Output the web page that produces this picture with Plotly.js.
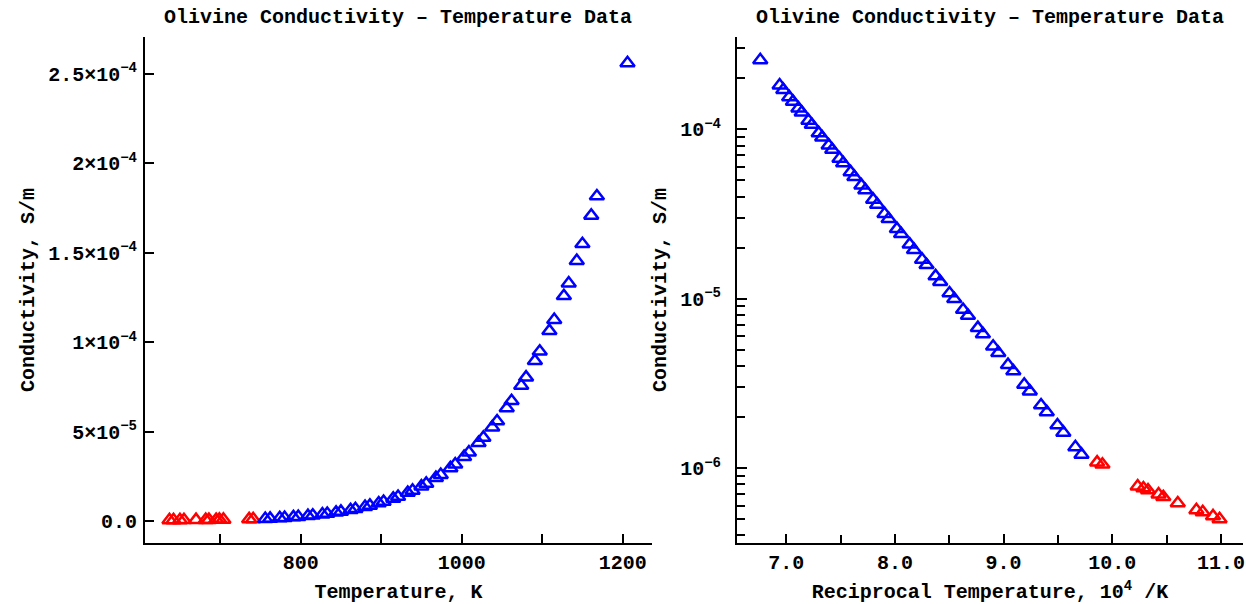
<!DOCTYPE html>
<html><head><meta charset="utf-8">
<script src="https://cdn.plot.ly/plotly-3.0.1.min.js"></script>
<style>html,body{margin:0;padding:0;background:#fff}#chart{width:1246px;height:604px}</style>
</head><body><div id="chart"></div>
<script>
// Temperatures as labelled on the chart (values are degrees C), conductivity S/m
const blueTemperature = [1206, 1168, 1161, 1150, 1143, 1133, 1127, 1115, 1109, 1097, 1091, 1080, 1074, 1062, 1056, 1044, 1038, 1027, 1021, 1009, 1003, 992, 986, 974, 968, 956, 950, 939, 933, 921, 915, 903, 897, 886, 880, 868, 862, 850, 844, 833, 827, 815, 809, 797, 791, 780, 774, 762, 756];
const blueConductivity = [2.56e-4, 1.816e-4, 1.708e-4, 1.549e-4, 1.455e-4, 1.329e-4, 1.258e-4, 1.125e-4, 1.063e-4, 9.48e-5, 8.95e-5, 8.03e-5, 7.57e-5, 6.71e-5, 6.31e-5, 5.58e-5, 5.24e-5, 4.66e-5, 4.37e-5, 3.84e-5, 3.59e-5, 3.17e-5, 2.96e-5, 2.58e-5, 2.41e-5, 2.09e-5, 1.94e-5, 1.70e-5, 1.58e-5, 1.358e-5, 1.258e-5, 1.077e-5, 9.96e-6, 8.60e-6, 7.93e-6, 6.72e-6, 6.18e-6, 5.22e-6, 4.79e-6, 4.07e-6, 3.73e-6, 3.11e-6, 2.84e-6, 2.35e-6, 2.14e-6, 1.79e-6, 1.62e-6, 1.33e-6, 1.20e-6];
const redTemperature = [741, 736, 704, 699, 695, 686, 682, 670, 655, 650, 642, 637];
const redConductivity = [1.08e-6, 1.05e-6, 7.8e-7, 7.6e-7, 7.4e-7, 7.0e-7, 6.75e-7, 6.2e-7, 5.65e-7, 5.5e-7, 5.2e-7, 5.0e-7];

const chartTitle = 'Olivine Conductivity – Temperature Data';
const leftXTitle = 'Temperature, K';
const rightXTitle = 'Reciprocal Temperature, 10<sup>4</sup> /K';
const yTitle = 'Conductivity, S/m';

const leftXTickValues = [800, 1000, 1200];
const leftXTickLabels = ['800', '1000', '1200'];
const leftXMinorValues = [700, 900, 1100];
const leftYTickValues = [0, 5e-5, 1e-4, 1.5e-4, 2e-4, 2.5e-4];
const leftYTickLabels = ['0.0', '5×10<sup>−5</sup>', '1×10<sup>−4</sup>', '1.5×10<sup>−4</sup>', '2×10<sup>−4</sup>', '2.5×10<sup>−4</sup>'];
const rightXTickValues = [7, 8, 9, 10, 11];
const rightXTickLabels = ['7.0', '8.0', '9.0', '10.0', '11.0'];
const rightXMinorValues = [7.5, 8.5, 9.5, 10.5];
const rightYTickValues = [1e-6, 1e-5, 1e-4];
const rightYTickLabels = ['10<sup>−6</sup>', '10<sup>−5</sup>', '10<sup>−4</sup>'];

const reciprocal = arr => arr.map(t => 1e4 / (t + 273.15));
const rightYMinorValues = [];
[1e-7, 1e-6, 1e-5, 1e-4].forEach(d => { for (let k = 2; k <= 9; k++) rightYMinorValues.push(k * d); });

const FONT = {family: '"Liberation Mono", "DejaVu Sans Mono", monospace', size: 20, color: '#000', weight: 700};

function mk(x, y, color, xa, ya) {
  return {x: x, y: y, xaxis: xa, yaxis: ya, type: 'scatter', mode: 'markers', showlegend: false,
    marker: {symbol: 'triangle-up-open', size: 12.5, color: color, line: {width: 2.5, color: color}}};
}

const data = [
  mk(redTemperature, redConductivity, '#ff0000', 'x', 'y'),
  mk(blueTemperature, blueConductivity, '#0000ff', 'x', 'y'),
  mk(reciprocal(redTemperature), redConductivity, '#ff0000', 'x2', 'y2'),
  mk(reciprocal(blueTemperature), blueConductivity, '#0000ff', 'x2', 'y2')
];

const axisBase = {showgrid: false, zeroline: false, showline: true, linecolor: '#000', linewidth: 2,
  ticks: 'inside', ticklen: 9, tickwidth: 2, tickcolor: '#000', tickfont: FONT, tickmode: 'array'};

const layout = {
  width: 1246, height: 604,
  margin: {l: 145, r: 3, t: 37, b: 61},
  paper_bgcolor: '#fff', plot_bgcolor: '#fff',
  font: FONT,
  xaxis: Object.assign({}, axisBase, {domain: [0, 0.4617], range: [606.6, 1236.4],
    tickvals: leftXTickValues, ticktext: leftXTickLabels, ticklabelstandoff: 0,
    minor: {tickmode: 'array', tickvals: leftXMinorValues, ticks: 'inside', ticklen: 9, tickwidth: 2, tickcolor: '#000'},
    title: {text: leftXTitle, font: FONT, standoff: 14}, anchor: 'y'}),
  yaxis: Object.assign({}, axisBase, {domain: [0, 1], range: [-1.23e-5, 2.706e-4],
    tickvals: leftYTickValues, ticktext: leftYTickLabels, ticklabelstandoff: 2,
    title: {text: yTitle, font: FONT, standoff: 8}, anchor: 'x'}),
  xaxis2: Object.assign({}, axisBase, {domain: [0.5392, 1], range: [6.547, 11.203],
    tickvals: rightXTickValues, ticktext: rightXTickLabels, ticklabelstandoff: 0,
    minor: {tickmode: 'array', tickvals: rightXMinorValues, ticks: 'inside', ticklen: 8, tickwidth: 2, tickcolor: '#000'},
    title: {text: rightXTitle, font: FONT, standoff: 14}, anchor: 'y2'}),
  yaxis2: Object.assign({}, axisBase, {domain: [0, 1], type: 'log', range: [-6.4425, -3.4555],
    tickvals: rightYTickValues, ticktext: rightYTickLabels, ticklabelstandoff: 10, ticklen: 10,
    minor: {tickmode: 'array', tickvals: rightYMinorValues, ticks: 'inside', ticklen: 8, tickwidth: 2, tickcolor: '#000'},
    title: {text: yTitle, font: FONT, standoff: 8}, anchor: 'x2'}),
  annotations: [
    {text: chartTitle, xref: 'paper', yref: 'paper', x: 0.23085, y: 1, yshift: 20, showarrow: false, font: FONT, xanchor: 'center', yanchor: 'middle'},
    {text: chartTitle, xref: 'paper', yref: 'paper', x: 0.7696, y: 1, yshift: 20, showarrow: false, font: FONT, xanchor: 'center', yanchor: 'middle'}
  ]
};

Plotly.newPlot('chart', data, layout, {displayModeBar: false, staticPlot: true});
</script>
</body></html>
